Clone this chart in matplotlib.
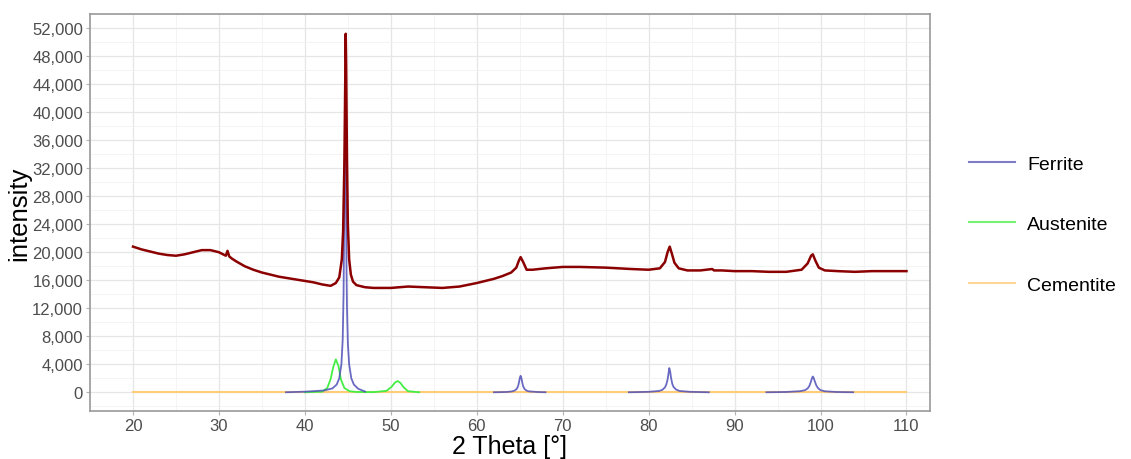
import matplotlib
matplotlib.use('Agg')
import matplotlib.pyplot as plt
import numpy as np

plt.rcParams['font.family'] = ['Liberation Sans', 'DejaVu Sans']

# measured pattern (2 theta, intensity)
meas_x = [20, 21, 22, 23, 24, 25, 26, 27, 28, 29, 30, 30.8, 31.0, 31.2, 31.5, 32, 33, 34, 35, 36, 37, 38,
          39, 40, 41, 42, 43, 43.6, 44.0, 44.3, 44.45, 44.6, 44.7, 44.75, 44.8, 44.9, 45.0, 45.15, 45.35,
          45.6, 46, 47, 48, 50, 52, 54, 56, 58, 60, 62, 63, 64, 64.6, 64.9, 65.1, 65.4, 65.8, 66.5, 68,
          70, 72, 75, 78, 80, 81.3, 81.9, 82.2, 82.45, 82.7, 83.0, 83.5, 84.5, 86, 87.4, 87.6, 88.5,
          90, 92, 94, 96, 97.8, 98.5, 98.9, 99.1, 99.4, 99.8, 100.5, 102, 104, 106, 108, 110]
meas_y = [20800, 20400, 20100, 19800, 19600, 19500, 19700, 20000, 20300, 20300, 20000, 19500, 20200, 19400,
          19100, 18700, 18000, 17500, 17100, 16800, 16500, 16300, 16100, 15900, 15700, 15400, 15200,
          15600, 16400, 19000, 23000, 33000, 45000, 51200, 47000, 33000, 24000, 19000, 16800, 15800,
          15300, 15000, 14900, 14900, 15100, 15000, 14900, 15100, 15600, 16200, 16600, 17100, 17800,
          18800, 19300, 18600, 17500, 17500, 17700, 17900, 17900, 17800, 17600, 17500, 17700, 18600,
          20000, 20800, 19800, 18500, 17700, 17400, 17400, 17600, 17400, 17400, 17300, 17300, 17200,
          17200, 17500, 18400, 19500, 19700, 18800, 17800, 17400, 17300, 17200, 17300, 17300, 17300]

# Ferrite phase peaks (one list per segment)
fer_x = [[37.8, 40, 42.2, 43.2, 43.7, 44.0, 44.25, 44.4, 44.5, 44.55, 44.6, 44.65, 44.7, 44.75,
          44.8, 44.85, 44.9, 45.0, 45.15, 45.4, 45.7, 46.2, 47],
         [62, 63.5, 64.1, 64.4, 64.65, 64.8, 64.9, 65.0, 65.1, 65.2, 65.3, 65.4, 65.55, 65.8, 66.1, 67, 68],
         [77.7, 80, 81.2, 81.6, 81.9, 82.05, 82.2, 82.3, 82.4, 82.5, 82.6, 82.75, 82.9, 83.2, 83.6, 84.8, 87],
         [93.7, 96, 97.6, 98.2, 98.5, 98.7, 98.85, 99.0, 99.1, 99.2, 99.35, 99.5, 99.7, 100.0, 100.5, 101.8, 103.8]]
fer_y = [[0, 80, 250, 550, 1100, 2000, 4000, 7500, 14000, 21500, 31000, 35000, 36500, 33000,
          25000, 17000, 12000, 7000, 4000, 2000, 1100, 500, 100],
         [0, 40, 120, 240, 480, 850, 1350, 2000, 2350, 2000, 1350, 850, 480, 230, 120, 40, 0],
         [0, 60, 180, 350, 700, 1100, 1800, 2600, 3450, 3000, 2100, 1200, 750, 380, 180, 60, 0],
         [0, 40, 150, 300, 550, 900, 1400, 2000, 2250, 2050, 1500, 1000, 600, 300, 140, 40, 0]]

# Austenite phase peaks
aus_x = [40, 42, 42.6, 43.0, 43.3, 43.6, 43.9, 44.2, 44.6, 45.2, 46, 48, 49.5, 50.1, 50.5, 50.8, 51.1,
         51.5, 52.0, 53.3]
aus_y = [0, 80, 600, 1900, 3600, 4700, 3800, 1800, 600, 150, 40, 20, 200, 800, 1400, 1600, 1350, 700,
         150, 0]

# Cementite phase
cem_x = [20, 110]
cem_y = [0, 0]

fig, ax = plt.subplots(figsize=(11.31, 4.6), dpi=100)
fig.subplots_adjust(left=0.0796, right=0.822, top=0.967, bottom=0.104)

ax.plot(cem_x, cem_y, color='#FFCC77', lw=1.5, label='Cementite', zorder=3)
ax.plot(aus_x, aus_y, color='#44EE44', lw=1.3, label='Austenite', zorder=4)
for i in range(len(fer_x)):
    ax.plot(fer_x[i], fer_y[i], color='#5050B8', lw=1.3, alpha=0.85,
            label='Ferrite' if i == 0 else None, zorder=5)
ax.plot(meas_x, meas_y, color='#8B0000', lw=1.8, zorder=6)

ax.set_xlim(15.4, 112.7)
ax.set_ylim(-2700, 54000)
ax.set_xticks(np.arange(20, 111, 10))
ax.set_xticks(np.arange(15, 111, 5), minor=True)
ax.set_yticks(np.arange(0, 52001, 4000))
ax.set_yticks(np.arange(-2000, 54001, 2000), minor=True)
ax.set_yticklabels(['{:,}'.format(v) for v in range(0, 52001, 4000)])
ax.grid(which='major', color='#E6E6E6', lw=0.9)
ax.grid(which='minor', color='#F2F2F2', lw=0.6)
ax.set_axisbelow(True)
ax.tick_params(which='major', length=3, pad=2, color='#B3B3B3', labelcolor='#4D4D4D', labelsize=12)
ax.tick_params(which='minor', length=0)
for s in ax.spines.values():
    s.set_color('#999999')
    s.set_linewidth(1.2)

ax.set_xlabel('2 Theta [°]', fontsize=18, labelpad=1)
ax.set_ylabel('intensity', fontsize=18.5, labelpad=1)

h, l = ax.get_legend_handles_labels()
order = [l.index('Ferrite'), l.index('Austenite'), l.index('Cementite')]
leg = fig.legend([h[i] for i in order], [l[i] for i in order], loc='center left',
                 bbox_to_anchor=(0.841, 0.51), frameon=False, fontsize=14,
                 handlelength=2.4, labelspacing=2.2, handletextpad=0.62)
for line in leg.get_lines():
    line.set_alpha(0.75)
    line.set_linewidth(1.5)

fig.savefig('out.png', dpi=100)
